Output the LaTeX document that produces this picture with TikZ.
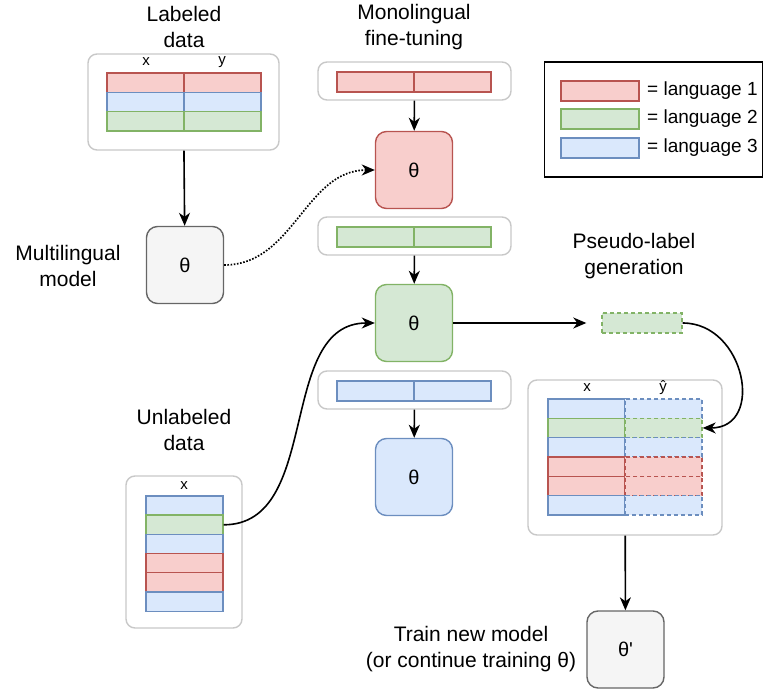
\documentclass[tikz,border=0pt]{standalone}
\usepackage{fontspec}
\setmainfont{Liberation Sans}
\usepackage{tikz}
\usetikzlibrary{arrows.meta,positioning,calc}

\definecolor{redfill}{HTML}{F8CECC}
\definecolor{redline}{HTML}{B85450}
\definecolor{greenfill}{HTML}{D5E8D4}
\definecolor{greenline}{HTML}{82B366}
\definecolor{bluefill}{HTML}{DAE8FC}
\definecolor{blueline}{HTML}{6C8EBF}
\definecolor{grayfill}{HTML}{F5F5F5}
\definecolor{grayline}{HTML}{666666}
\definecolor{boxline}{HTML}{C8C8C8}

\newcommand{\straightq}{\XeTeXglyph\XeTeXcharglyph"27\relax}

\tikzset{
	>={Stealth[length=13pt,width=11pt,inset=4pt]},
	lbl/.style={font=\fontsize{21}{25.5}\selectfont, align=center},
	small/.style={font=\fontsize{15}{17}\selectfont, inner sep=0pt},
	holder/.style={draw=boxline, fill=white, line width=1.4pt, rounded corners=9pt, inner sep=0pt},
	model/.style={draw=#1line, fill=#1fill, line width=1.4pt, rounded corners=11pt, minimum width=77pt, minimum height=77pt, font=\fontsize{20}{24}\selectfont},
	cell/.style={draw=#1line, fill=#1fill, line width=1.4pt, minimum width=77pt, minimum height=19.4pt, inner sep=0pt},
	pcell/.style={cell=#1, dash pattern=on 4pt off 3pt},
	conn/.style={->, line width=1.6pt}
}

\begin{document}
\begin{tikzpicture}[x=1pt,y=-1pt]
	\useasboundingbox (0,0) rectangle (764,690);

	% labeled data
	\node[lbl] (tlab) at (184,27) {Labeled\\data};
	\node[holder, minimum width=191pt, minimum height=96pt] (ldata) at (183.5,102) {};
	\node[small] (lx) at (146,62) {x};
	\node[small] (ly) at (222,62) {y};
	\foreach \c [count=\i] in {red,blue,green} {
		\node[cell=\c] (l\i a) at (145.5, 63.4+19.3*\i) {};
		\node[cell=\c] (l\i b) at (222.5, 63.4+19.3*\i) {};
	}

	% multilingual model
	\node[model=gray] (mmodel) at (185,265) {θ};
	\node[lbl] (tmul) at (68,266) {Multilingual\\model};

	% monolingual fine-tuning
	\node[lbl] (tmono) at (414,27) {Monolingual\\fine-tuning};
	\foreach \c/\y/\m [count=\i] in {red/81/170, green/236/323, blue/390/477} {
		\node[holder, minimum width=193pt, minimum height=38pt] (mono\i) at (414.5,\y) {};
		\node[cell=\c, minimum height=20pt] (mono\i a) at (375.5,\y+1) {};
		\node[cell=\c, minimum height=20pt] (mono\i b) at (452.5,\y+1) {};
		\node[model=\c] (m\i) at (414,\m) {θ};
		\draw[conn] (mono\i) -- (m\i);
	}

	% legend
	\node[draw=black, line width=1.4pt, minimum width=218pt, minimum height=115pt, inner sep=0pt] (legend) at (653.5,119.5) {};
	\foreach \c/\y [count=\i] in {red/91, green/119, blue/148} {
		\node[cell=\c, minimum width=78pt, minimum height=20pt] (sw\i) at (600,\y) {};
		\node[anchor=west, inner sep=0pt, font=\fontsize{19}{22}\selectfont] (lg\i) at (647,\y) {= language \i};
	}

	% unlabeled data
	\node[lbl] (tunl) at (184,430) {Unlabeled\\data};
	\node[holder, minimum width=116pt, minimum height=152pt] (udata) at (184,552) {};
	\node[small] (ux) at (184,486) {x};
	\foreach \c [count=\i] in {blue,green,blue,red,red,blue} {
		\node[cell=\c] (u\i) at (184.5, 486.4+19.2*\i) {};
	}

	% pseudo labels
	\node[lbl] (tpseudo) at (634,256) {Pseudo-label\\generation};
	\node[pcell=green, minimum width=80pt, minimum height=20pt] (pseudo) at (642,323) {};
	\node[holder, minimum width=194pt, minimum height=155pt] (rdata) at (625,457.5) {};
	\node[small] (rx) at (587,388) {x};
	\node[small] (ry) at (663,388) {ŷ};
	\foreach \c [count=\i] in {blue,green,blue,red,red,blue} {
		\node[cell=\c] (r\i a) at (586.5, 389.3+19.33*\i) {};
		\node[pcell=\c] (r\i b) at (663.5, 389.3+19.33*\i) {};
	}

	% new model
	\node[model=gray] (newm) at (625.5,649.5) {θ\straightq};
	\node[lbl] (ttrain) at (471,649) {Train new model\\(or continue training θ)};

	% connectors
	\draw[conn] (ldata) -- (mmodel);
	\draw[->, line width=1.7pt, dash pattern=on 1.6pt off 1.6pt] (mmodel.east) to[out=0,in=180] (m1.west);
	\draw[conn] (u2.east) to[out=0,in=180] (m2.west);
	\draw[conn, shorten >=15pt] (m2.east) -- (pseudo.west);
	\draw[conn] (pseudo.east) to[out=0,in=0,looseness=1.5] (r2b.east);
	\draw[conn] (rdata) -- (newm);
\end{tikzpicture}
\end{document}
